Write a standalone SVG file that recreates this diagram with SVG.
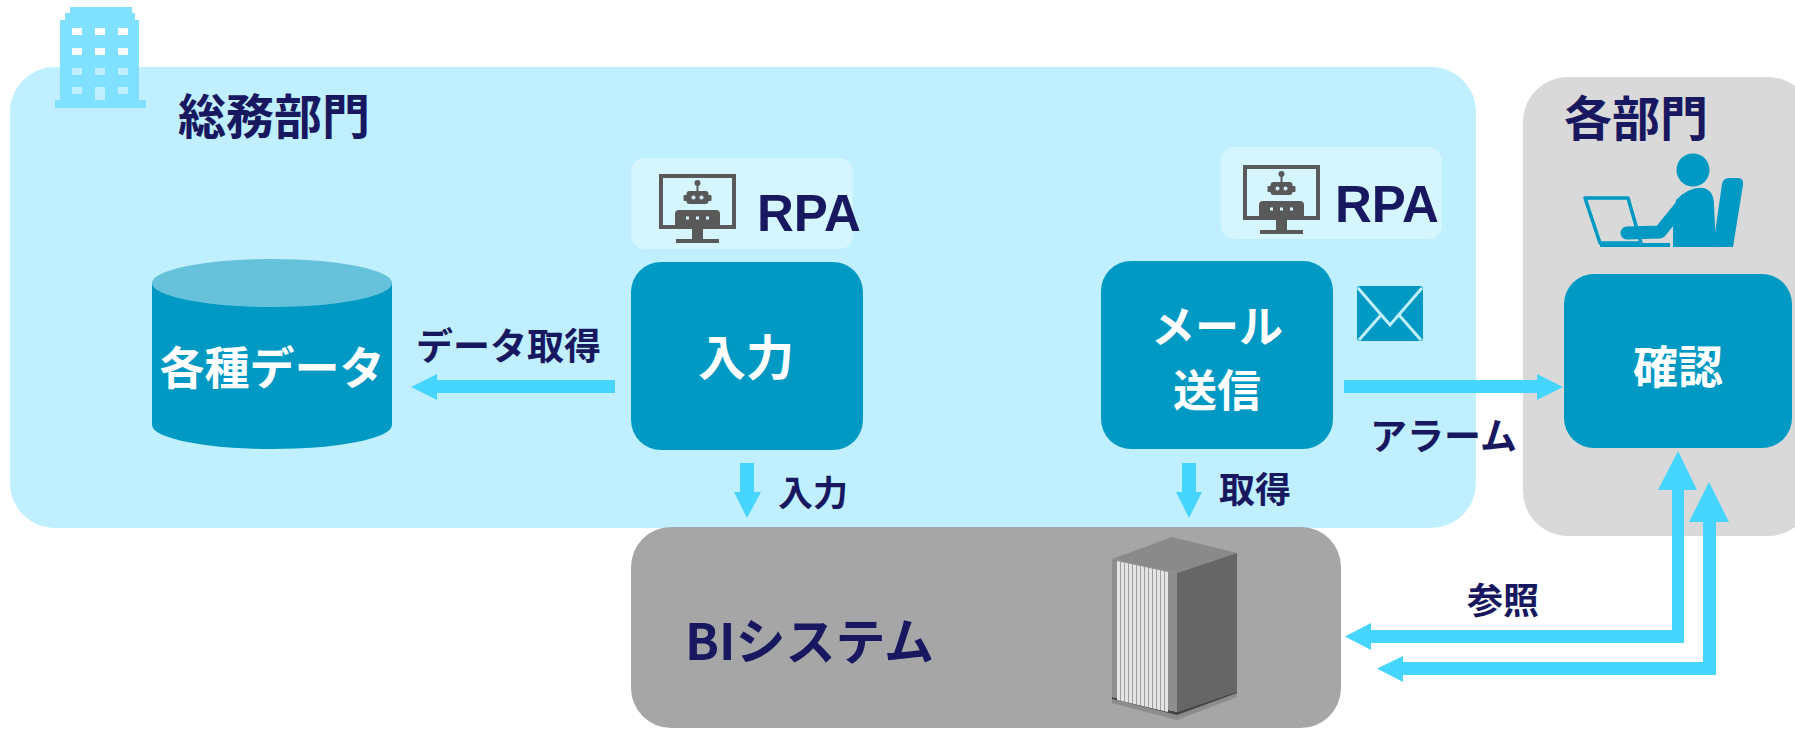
<svg xmlns="http://www.w3.org/2000/svg" xmlns:xlink="http://www.w3.org/1999/xlink" width="1795" height="729" viewBox="0 0 1795 729">
  <style>
    .jp { font-family: "Noto Sans CJK JP", "Noto Sans", sans-serif; font-weight: 700; }
    .navy { fill: #181860; }
    .white { fill: #ffffff; }
    .node { fill: #0099C4; }
    .rpa-bg { fill: #D5F6FF; }
    .rpa-txt { font-family: "Liberation Sans", Arial, sans-serif; font-weight: 700; font-size: 51px; fill: #181860; }
    .arrow { fill: #45D5FF; }
  </style>
  <defs>
    <!-- monitor with robot, origin at top-left of screen frame -->
    <g id="robot-monitor">
      <rect x="2" y="2" width="73" height="51" fill="none" stroke="#595959" stroke-width="4"/>
      <rect x="33" y="55" width="11" height="10" fill="#595959"/>
      <rect x="17" y="65" width="43" height="4" fill="#595959"/>
      <line x1="38.5" y1="9" x2="38.5" y2="17" stroke="#595959" stroke-width="2"/>
      <circle cx="38.5" cy="9" r="3" fill="#595959"/>
      <rect x="27.5" y="17" width="22" height="13" rx="3" fill="#595959"/>
      <rect x="24.5" y="21" width="4" height="6" rx="1" fill="#595959"/>
      <rect x="48.5" y="21" width="4" height="6" rx="1" fill="#595959"/>
      <circle cx="34.5" cy="23.5" r="2" fill="#DDF6FF"/>
      <circle cx="42.5" cy="23.5" r="2" fill="#DDF6FF"/>
      <path d="M16,40 Q16,36 20,36 L57,36 Q61,36 61,40 L61,53 L16,53 Z" fill="#595959"/>
      <rect x="27" y="42.5" width="3" height="3" fill="#DDF6FF"/>
      <rect x="37" y="42.5" width="3" height="3" fill="#DDF6FF"/>
      <rect x="47" y="42.5" width="3" height="3" fill="#DDF6FF"/>
    </g>
    <pattern id="rack-stripes" x="1117" y="0" width="4" height="10" patternUnits="userSpaceOnUse">
      <rect x="0" y="0" width="4" height="10" fill="#9E9E9E"/>
      <rect x="0" y="0" width="3" height="10" fill="#E4E4E4"/>
    </pattern>
    <clipPath id="rack-front">
      <polygon points="1117,561 1168,572 1168,712 1117,700"/>
    </clipPath>
  </defs>

  <!-- department areas -->
  <rect id="area-soumu" x="10" y="67" width="1466" height="461" rx="45" fill="#C0F0FF"/>
  <rect id="area-kakubu" x="1523" y="77" width="290" height="459" rx="45" fill="#D9D9D9"/>
  <rect id="area-bi" x="631" y="527" width="710" height="201" rx="40" fill="#A6A6A6"/>

  <!-- building icon -->
  <g id="building">
    <path fill="#80E0FF" fill-rule="evenodd" d="M70,7 H132 V13 H135 V20 H139 V100 H146 V108 H55 V100 H60 V20 H65 V13 H70 Z
      M72,28 h10 v7 h-10 Z M95,28 h10 v7 h-10 Z M118,28 h10 v7 h-10 Z
      M72,48 h10 v7 h-10 Z M95,48 h10 v7 h-10 Z M118,48 h10 v7 h-10 Z
      M72,68 h10 v7 h-10 Z M95,68 h10 v7 h-10 Z M118,68 h10 v7 h-10 Z
      M72,87 h10 v7 h-10 Z M95,87 h10 v13 h-10 Z M118,87 h10 v7 h-10 Z"/>
  </g>

  <text id="title-soumu" class="jp navy" x="178" y="134" font-size="48">総務部門</text>
  <text id="title-kakubu" class="jp navy" x="1564" y="136" font-size="48">各部門</text>

  <!-- person at laptop -->
  <g id="person-icon" fill="#0099C4">
    <circle cx="1693" cy="170" r="16.5"/>
    <path d="M1722,184 Q1723,178 1729,178 L1738,178 Q1744,178 1743,185 L1733,247 L1713,247 Z"/>
    <path d="M1676,200 Q1690,186 1704,188 Q1714,191 1714,205 L1716,247 L1673,247 L1673,222 Z"/>
    <path d="M1627,233 L1660,232 L1686,200" fill="none" stroke="#0099C4" stroke-width="13" stroke-linecap="round" stroke-linejoin="round"/>
    <polygon points="1585,198 1628,198 1641,243 1600,243" fill="none" stroke="#0099C4" stroke-width="3.5" stroke-linejoin="round"/>
    <rect x="1600" y="243" width="70" height="4"/>
  </g>

  <!-- data store -->
  <g id="node-data">
    <path class="node" d="M152,283 L152,425 A120,24 0 0 0 392,425 L392,283 Z"/>
    <ellipse cx="272" cy="283" rx="120" ry="24" fill="#66C2DB"/>
    <text class="jp white" x="272" y="385" font-size="45" text-anchor="middle">各種データ</text>
  </g>

  <!-- RPA 1 -->
  <g id="rpa-1">
    <rect class="rpa-bg" x="631" y="158" width="222" height="91" rx="14"/>
    <use xlink:href="#robot-monitor" x="659" y="174"/>
    <text class="rpa-txt" x="757" y="231">RPA</text>
  </g>

  <!-- RPA 2 -->
  <g id="rpa-2">
    <rect class="rpa-bg" x="1221" y="147" width="221" height="92" rx="14"/>
    <use xlink:href="#robot-monitor" x="1243" y="165"/>
    <text class="rpa-txt" x="1335" y="222">RPA</text>
  </g>

  <g id="node-input">
    <rect class="node" x="631" y="262" width="232" height="188" rx="30"/>
    <text class="jp white" x="746" y="375" font-size="48" text-anchor="middle">入力</text>
  </g>

  <g id="node-mail">
    <rect class="node" x="1101" y="261" width="232" height="188" rx="30"/>
    <text class="jp white" font-size="44" text-anchor="middle"><tspan x="1217" y="343">メール</tspan><tspan x="1217" y="407">送信</tspan></text>
  </g>

  <g id="envelope">
    <rect x="1357" y="286" width="66" height="55" rx="3" fill="#0099C4"/>
    <polyline points="1358,288 1390,325 1422,288" fill="none" stroke="#C0F0FF" stroke-width="3"/>
    <line x1="1359" y1="340" x2="1381" y2="315" stroke="#C0F0FF" stroke-width="3"/>
    <line x1="1421" y1="340" x2="1399" y2="315" stroke="#C0F0FF" stroke-width="3"/>
  </g>

  <g id="node-confirm">
    <rect class="node" x="1564" y="274" width="228" height="174" rx="30"/>
    <text class="jp white" x="1678" y="384" font-size="45" text-anchor="middle">確認</text>
  </g>

  <!-- BI system with server rack -->
  <g id="node-bi">
    <text class="jp navy" x="685" y="660" font-size="50">BIシステム</text>
    <g id="server-rack">
      <polygon points="1112,698 1177,713 1237,692 1237,697 1177,720 1112,703" fill="#8C8C8C"/>
      <polygon points="1112,697 1177,712 1237,691 1237,693 1177,715 1112,699" fill="#444444"/>
      <polygon points="1112,559 1172,537 1237,553 1177,573" fill="#8A8A8A"/>
      <polygon points="1177,573 1237,553 1237,692 1177,712" fill="#666666"/>
      <polygon points="1112,559 1177,573 1177,712 1112,697" fill="#8E8E8E"/>
      <rect x="1117" y="555" width="51" height="160" fill="url(#rack-stripes)" clip-path="url(#rack-front)"/>
    </g>
  </g>

  <!-- connectors -->
  <g id="connectors">
    <polygon class="arrow" points="615,380 437,380 437,374 411,387 437,400 437,393 615,393"/>
    <polygon class="arrow" points="740,463 754,463 754,492 761,492 747,518 734,492 740,492"/>
    <polygon class="arrow" points="1182,463 1196,463 1196,492 1202,492 1189,518 1176,492 1182,492"/>
    <polygon class="arrow" points="1344,380 1537,380 1537,374 1563,387 1537,400 1537,393 1344,393"/>
    <polygon class="arrow" points="1345,636.5 1371,623 1371,630 1672,630 1672,490 1658,490 1678,451 1697,490 1684,490 1684,643 1371,643 1371,650"/>
    <polygon class="arrow" points="1377,668.5 1403,656 1403,662 1703,662 1703,522 1689,522 1709,482 1729,522 1716,522 1716,675 1403,675 1403,682"/>
  </g>

  <!-- connector labels -->
  <g id="labels">
    <text class="jp navy" x="416" y="360" font-size="37">データ取得</text>
    <text class="jp navy" x="778" y="506" font-size="35">入力</text>
    <text class="jp navy" x="1219" y="503" font-size="36">取得</text>
    <text class="jp navy" x="1370" y="450" font-size="37">アラーム</text>
    <text class="jp navy" x="1467" y="614" font-size="36">参照</text>
  </g>
</svg>
